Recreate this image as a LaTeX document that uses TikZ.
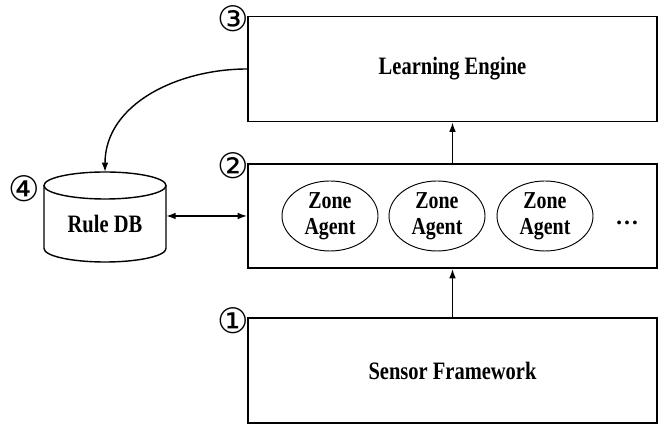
\documentclass[tikz,border=0pt]{standalone}
\usepackage{fontspec}
\setmainfont{Liberation Serif}
\newfontfamily\numfont{DejaVu Sans}
\usetikzlibrary{arrows.meta}
\usetikzlibrary{shapes.geometric}
\newcommand{\tallbf}[1]{\scalebox{1}[1.22]{\bfseries #1}}

\begin{document}
\begin{tikzpicture}[x=0.03cm, y=0.03cm,
  blockbox/.style={draw, line width=1.6pt, minimum width=12.27cm, minimum height=3.15cm, inner sep=0pt, font=\fontsize{17.5}{20}\selectfont},
  agent/.style={draw, ellipse, line width=0.8pt, minimum width=2.88cm, minimum height=2.1cm, inner sep=0pt, align=center, font=\fontsize{17}{22}\selectfont},
  flow/.style={line width=1.2pt, -{Latex[length=2.8mm,width=2mm]}},
  stepnum/.style={font=\numfont\fontsize{30}{30}\selectfont, inner sep=0pt}]
\useasboundingbox (0,0) rectangle (664,426);
\node[blockbox] (engine) at (452.5,357) {\tallbf{Learning Engine}};
\node[blockbox, minimum height=3.12cm] (zones) at (452.5,210) {};
\node[blockbox] (sensor) at (452.5,55.5) {\tallbf{Sensor Framework}};
\node[agent] (agent1) at (330,210) {\tallbf{Zone}\\\tallbf{Agent}};
\node[agent] (agent2) at (437,210) {\tallbf{Zone}\\\tallbf{Agent}};
\node[agent] (agent3) at (545,210) {\tallbf{Zone}\\\tallbf{Agent}};
\node[font=\fontsize{20}{20}\selectfont\bfseries, anchor=base] (more) at (627,201) {\dots};
% database cylinder
\coordinate (dbtop) at (105,254);
\draw[line width=1.2pt] (105,240.5) ellipse [x radius=61, y radius=13.5];
\draw[line width=1.2pt] (44,240.5) -- (44,177.5) arc[start angle=180, end angle=360, x radius=61, y radius=13.5] -- (166,240.5);
\node[minimum width=3.66cm, inner sep=0pt, font=\fontsize{17.5}{20}\selectfont] (ruledb) at (105,202) {\tallbf{Rule DB}};
% step numbers
\node[stepnum] (n3) at (233,407) {③};
\node[stepnum] (n2) at (233,260) {②};
\node[stepnum] (n1) at (233,105) {①};
\node[stepnum] (n4) at (24,237) {④};
% connectors
\draw[flow] (zones.north) -- (engine.south);
\draw[flow] (sensor.north) -- (zones.south);
\draw[flow] (engine.west) to[out=180, in=90] (dbtop);
\draw[flow, {Latex[length=2.8mm,width=2mm]}-{Latex[length=2.8mm,width=2mm]}] (ruledb.east |- zones.west) -- (zones.west);
\end{tikzpicture}
\end{document}
